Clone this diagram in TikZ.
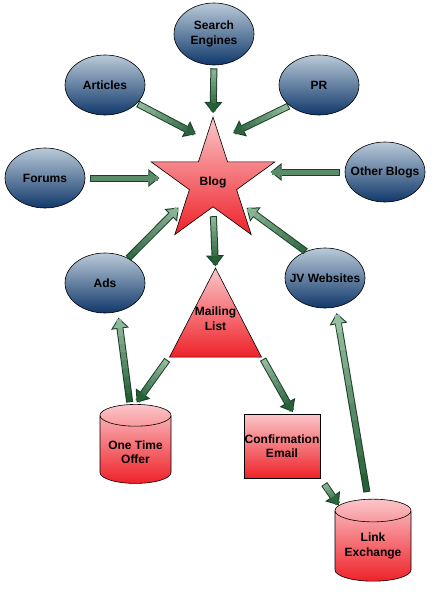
\documentclass[tikz,border=0pt]{standalone}
\usepackage{fontspec}
\setmainfont{Liberation Sans}
\usepackage{tikz}
\usetikzlibrary{arrows.meta,calc,shapes.geometric}

\definecolor{ellTop}{HTML}{BACAD9}
\definecolor{ellBot}{HTML}{10386A}
\definecolor{redTop}{HTML}{FBC6C9}
\definecolor{redBot}{HTML}{EE2229}
\definecolor{arrowEdge}{HTML}{1B3F27}
\definecolor{arrowLight}{HTML}{A5C9AE}
\definecolor{arrowDark}{HTML}{1E5A31}

% text of a node moved up or down inside its shape
\newcommand\moved[2]{\raisebox{#1}[\height][\depth]{\begin{tabular}{@{}c@{}}#2\end{tabular}}}

% one thick block arrow: dark outline pass, then a green fill from tail shade to head shade
\newcommand\flow[6]{%
  \draw[flowback,shorten <=#3,shorten >=#4] (#1) -- (#2);
  \path ($(#1)!#3+1pt!(#2)$) coordinate (fa) ($(#2)!#4+1.6pt!(#1)$) coordinate (fb);
  \foreach \k in {0,...,9}{
    \pgfmathtruncatemacro\p{#5+(#6-#5)*\k/9}
    \draw[flowpiece,draw=arrowDark!\p!arrowLight] ($(fa)!\k/10!(fb)$) -- ($(fa)!{min(1,(\k+1)/10+0.02)}!(fb)$);}
  \draw[flowpiece,draw=arrowDark!#6!arrowLight,
    -{Triangle[length=8.4pt,width=13.7pt,line width=0pt]}] ($(fa)!0.9!(fb)$) -- (fb);}

\begin{document}
\begin{tikzpicture}[x=1pt,y=-1pt,line width=0.6pt,
    every node/.style={font=\fontsize{12}{14.5}\selectfont\bfseries,align=center},
    source/.style={ellipse,draw=black,top color=ellTop,bottom color=ellBot,
      minimum width=80pt,minimum height=60pt,inner xsep=-12pt,inner ysep=0pt},
    redshape/.style={draw=black,top color=redTop,bottom color=redBot},
    drum/.style={redshape,cylinder,shape border rotate=90,aspect=0.4,inner sep=0pt},
    flowback/.style={draw=arrowEdge,line width=7pt,
      -{Triangle[length=11pt,width=18pt,line width=0pt]}},
    flowpiece/.style={line width=5pt}]
  \useasboundingbox (0,0) rectangle (431,594);

  % sources round the blog
  \node[source,minimum height=62pt] (se) at (214,34) {Search\\Engines};
  \node[source] (art) at (105,85) {Articles};
  \node[source] (pr) at (319,85) {PR};
  \node[source] (forums) at (45,178) {Forums};
  \node[source] (other) at (385,172) {Other Blogs};
  \node[source] (ads) at (105,283) {Ads};
  \node[source] (jv) at (325,278) {JV Websites};

  % the blog and what follows it
  \node[redshape,star,star points=5,star point ratio=2.62,minimum size=130pt,
    inner sep=0pt] (blog) at (213,182) {Blog};
  \node[redshape,isosceles triangle,shape border rotate=90,
    isosceles triangle stretches,minimum width=92pt,minimum height=89pt,
    inner xsep=-12pt,inner ysep=-8pt] (mail) at (215.5,332) {\moved{12pt}{Mailing\\List}};
  \node[drum,minimum width=71pt,minimum height=79pt] (ota) at (135.5,449.5)
    {\moved{-4pt}{One Time\\Offer}};
  \node[redshape,minimum width=76pt,minimum height=64pt,inner sep=0pt]
    (conf) at (282,446) {Confirmation\\Email};
  \node[drum,minimum width=76pt,minimum height=82pt] (link) at (373,546)
    {\moved{0pt}{Link\\Exchange}};

  % block arrows
  \flow{se.south}{blog.90}{3pt}{3pt}{20}{95}
  \flow{art.-30}{blog.100}{1pt}{11pt}{15}{90}
  \flow{pr.-145}{blog.80}{1pt}{14pt}{15}{90}
  \flow{forums.east}{forums.east -| blog.180}{5pt}{19pt}{55}{55}
  \flow{other.west}{other.west -| blog.0}{5pt}{23pt}{55}{55}
  \flow{ads.47}{blog.214}{0pt}{10pt}{85}{20}
  \flow{jv.126}{blog.-38}{0pt}{6pt}{85}{20}
  \flow{blog.270}{mail.apex}{9pt}{1pt}{20}{95}
  \flow{mail.left corner}{ota.north}{3pt}{2pt}{15}{95}
  \flow{mail.right corner}{conf.70}{2pt}{2pt}{15}{95}
  \flow{ota.97}{ads.-66}{2pt}{6pt}{95}{15}
  \flow{conf.south east}{link.130}{7pt}{0pt}{20}{90}
  \flow{link.96}{jv.-70}{7pt}{6pt}{95}{10}
\end{tikzpicture}
\end{document}
